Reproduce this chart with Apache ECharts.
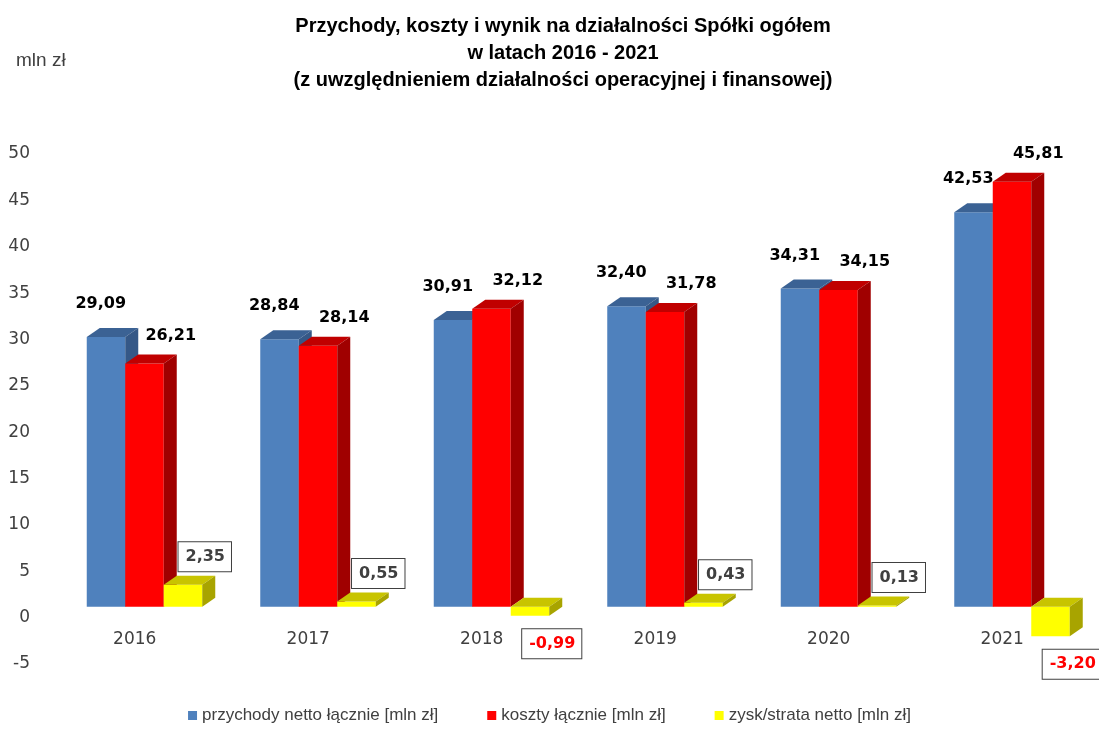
<!DOCTYPE html>
<html>
<head>
<meta charset="utf-8">
<script src="https://cdn.jsdelivr.net/npm/echarts@6/dist/echarts.min.js"></script>
<style>
html,body{margin:0;padding:0;background:#fff;}
#chart{width:1099px;height:740px;}
</style>
</head>
<body>
<div id="chart"></div>
<script>
var categories = ['2016', '2017', '2018', '2019', '2020', '2021'];
var przychody = [29.09, 28.84, 30.91, 32.40, 34.31, 42.53];
var koszty = [26.21, 28.14, 32.12, 31.78, 34.15, 45.81];
var wynik = [2.35, 0.55, -0.99, 0.43, 0.13, -3.20];
var seriesNames = ['przychody netto łącznie [mln zł]', 'koszty łącznie [mln zł]', 'zysk/strata netto [mln zł]'];
var yTicks = { min: -5, max: 50, interval: 5 };

var faceColors = [
  { front: '#4F81BD', top: '#3B6294', side: '#355887' },
  { front: '#FF0000', top: '#C00000', side: '#A00000' },
  { front: '#FFFF00', top: '#C8C400', side: '#A8A400' }
];

var BAR_START = -48, BAR_W = 38.5, DX = 13, DY = -9, SHIFT = -11;
var LABEL_FONT = 'bold 16px "DejaVu Sans"';

function fmt(v) { return v.toFixed(2).replace('.', ','); }

function makeRender(sIdx) {
  var c = faceColors[sIdx];
  return function (params, api) {
    var ci = api.value(0), v = api.value(1);
    var p0 = api.coord([ci, 0]), p1 = api.coord([ci, v]);
    var cx = p0[0];
    var left = cx + BAR_START + sIdx * BAR_W;
    var right = left + BAR_W;
    var yTop = Math.min(p0[1], p1[1]) + SHIFT;
    var yBot = Math.max(p0[1], p1[1]) + SHIFT;
    var children = [
      { type: 'rect', z2: sIdx * 10, shape: { x: left, y: yTop, width: BAR_W, height: yBot - yTop },
        style: { fill: c.front } },
      { type: 'polygon', z2: sIdx * 10 + 1,
        shape: { points: [[left, yTop], [left + DX, yTop + DY], [right + DX, yTop + DY], [right, yTop]] },
        style: { fill: c.top } },
      { type: 'polygon', z2: sIdx * 10 + 2,
        shape: { points: [[right, yTop], [right + DX, yTop + DY], [right + DX, yBot + DY], [right, yBot]] },
        style: { fill: c.side } }
    ];
    var txt;
    if (sIdx === 0) {
      txt = { type: 'text', z2: 100, style: { text: fmt(v), x: cx - 34, y: yTop - 33, align: 'center', verticalAlign: 'middle', font: LABEL_FONT, fill: '#000' } };
    } else if (sIdx === 1) {
      txt = { type: 'text', z2: 100, style: { text: fmt(v), x: cx + 36, y: yTop - 28, align: 'center', verticalAlign: 'middle', font: LABEL_FONT, fill: '#000' } };
    } else {
      txt = { type: 'text', z2: 100, style: {
        text: fmt(v), x: cx + 70, y: v >= 0 ? yTop - 28 : yBot + 28,
        align: 'center', verticalAlign: 'middle', font: LABEL_FONT,
        fill: v >= 0 ? '#404040' : '#FF0000',
        backgroundColor: '#fff', borderColor: '#404040', borderWidth: 1,
        padding: [7, 6, 6, 7]
      } };
    }
    children.push(txt);
    return { type: 'group', children: children };
  };
}

function seriesData(arr) {
  return arr.map(function (v, i) { return [i, v]; });
}

var chart = echarts.init(document.getElementById('chart'), null, { renderer: 'canvas' });
chart.setOption({
  backgroundColor: '#fff',
  animation: false,
  title: [
    {
      text: 'Przychody, koszty i wynik na działalności Spółki ogółem\nw latach 2016 - 2021\n(z uwzględnieniem działalności operacyjnej i finansowej)',
      left: 558, top: 8, textAlign: 'center',
      textStyle: { fontFamily: 'Liberation Sans', fontWeight: 'bold', fontSize: 20, lineHeight: 27, color: '#000' }
    },
    {
      text: 'mln zł', left: 11, top: 46,
      textStyle: { fontFamily: 'Liberation Sans', fontWeight: 'normal', fontSize: 19, color: '#404040' }
    }
  ],
  legend: {
    bottom: 11, left: 'center',
    icon: 'rect', itemWidth: 9, itemHeight: 9, itemGap: 49,
    textStyle: { fontFamily: 'Liberation Sans', fontSize: 17, color: '#404040' },
    data: seriesNames
  },
  grid: { left: 48, right: 10, top: 154, bottom: 76, containLabel: false },
  xAxis: {
    type: 'category', data: categories,
    axisLine: { show: false },
    axisTick: { show: false },
    axisLabel: { margin: -33, fontFamily: 'DejaVu Sans', fontSize: 17, color: '#404040' },
    splitLine: { show: false }
  },
  yAxis: {
    type: 'value', min: yTicks.min, max: yTicks.max, interval: yTicks.interval,
    axisLine: { show: false }, axisTick: { show: false }, splitLine: { show: false },
    axisLabel: { margin: 18, fontFamily: 'DejaVu Sans', fontSize: 17, color: '#404040' }
  },
  series: [
    { type: 'custom', name: seriesNames[0], itemStyle: { color: faceColors[0].front }, renderItem: makeRender(0), data: seriesData(przychody), encode: { x: 0, y: 1 } },
    { type: 'custom', name: seriesNames[1], itemStyle: { color: faceColors[1].front }, renderItem: makeRender(1), data: seriesData(koszty), encode: { x: 0, y: 1 } },
    { type: 'custom', name: seriesNames[2], itemStyle: { color: faceColors[2].front }, renderItem: makeRender(2), data: seriesData(wynik), encode: { x: 0, y: 1 } }
  ]
});
</script>
</body>
</html>
